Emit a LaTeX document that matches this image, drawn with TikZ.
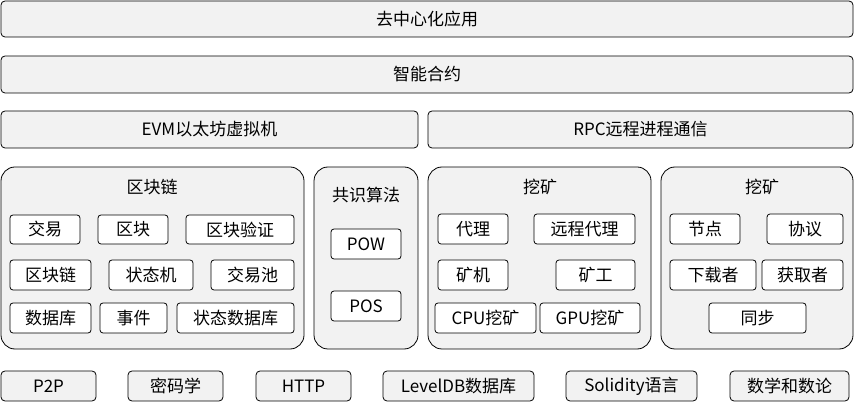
\documentclass[tikz,border=0pt]{standalone}
\usepackage{fontspec}
\setmainfont{Noto Sans CJK SC}
\begin{document}
\begin{tikzpicture}[x=1pt,y=-1pt,
  bar/.style={draw=black,fill=gray!10,rounded corners=4pt,line width=0.8pt},
  grp/.style={draw=black,fill=gray!10,rounded corners=14pt,line width=0.8pt},
  item/.style={draw=black,fill=white,rounded corners=3pt,line width=0.8pt},
  lbl/.style={font=\fontsize{17}{19}\selectfont,inner sep=0pt}]
\useasboundingbox (0,0) rectangle (854,411);
\newcommand{\bx}[6]{\draw[#1] (#2,#3) rectangle (#4,#5); \node[lbl] (n#2x#3) at ({(#2+#4)/2},{(#3+#5)/2}) {#6};}
\bx{bar}{1}{1}{853}{37}{去中心化应用}
\bx{bar}{1}{56}{853}{93}{智能合约}
\bx{bar}{1}{111}{418}{148}{EVM以太坊虚拟机}
\bx{bar}{428}{111}{853}{148}{RPC远程进程通信}
\draw[grp] (1,167) rectangle (304,349); \node[lbl] (g1) at (152,187) {区块链};
\draw[grp] (314,167) rectangle (418,349); \node[lbl] (g2) at (366,195) {共识算法};
\draw[grp] (428,167) rectangle (651,349); \node[lbl] (g3) at (540,187) {挖矿};
\draw[grp] (661,167) rectangle (853,349); \node[lbl] (g4) at (762,187) {挖矿};
\bx{item}{10}{215}{80}{244}{交易}
\bx{item}{98}{215}{168}{244}{区块}
\bx{item}{186}{215}{294}{244}{区块验证}
\bx{item}{10}{260}{91}{290}{区块链}
\bx{item}{109}{260}{193}{290}{状态机}
\bx{item}{211}{260}{294}{290}{交易池}
\bx{item}{10}{303}{91}{333}{数据库}
\bx{item}{100}{303}{167}{333}{事件}
\bx{item}{177}{303}{294}{333}{状态数据库}
\bx{item}{331}{229}{401}{259}{POW}
\bx{item}{331}{291}{401}{321}{POS}
\bx{item}{438}{214}{508}{244}{代理}
\bx{item}{534}{214}{635}{244}{远程代理}
\bx{item}{438}{260}{508}{290}{矿机}
\bx{item}{556}{260}{635}{290}{矿工}
\bx{item}{435}{303}{536}{333}{CPU挖矿}
\bx{item}{540}{303}{640}{333}{GPU挖矿}
\bx{item}{670}{214}{740}{244}{节点}
\bx{item}{767}{214}{843}{244}{协议}
\bx{item}{670}{260}{756}{290}{下载者}
\bx{item}{762}{260}{843}{290}{获取者}
\bx{item}{709}{303}{806}{333}{同步}
\bx{bar}{1}{371}{96}{401}{P2P}
\bx{bar}{128}{371}{223}{401}{密码学}
\bx{bar}{256}{371}{351}{401}{HTTP}
\bx{bar}{383}{371}{534}{401}{LevelDB数据库}
\bx{bar}{566}{371}{697}{401}{Solidity语言}
\bx{bar}{730}{371}{849}{401}{数学和数论}
\end{tikzpicture}
\end{document}
